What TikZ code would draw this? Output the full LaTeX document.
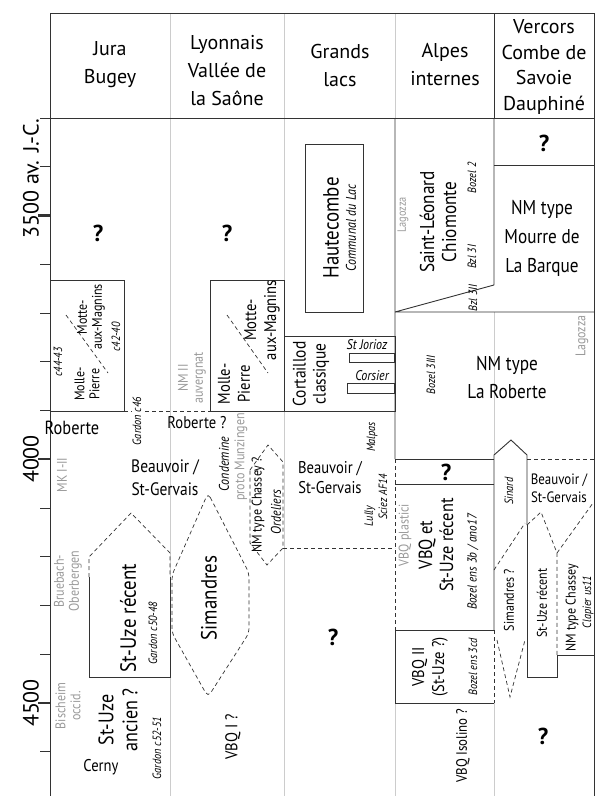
\documentclass[tikz,border=0pt]{standalone}
\usepackage{fontspec}
\setmainfont{PT Sans}
\newfontfamily\narrowfont[FakeStretch=0.86]{PT Sans}
\usetikzlibrary{positioning}

\definecolor{rulegray}{gray}{0.2}
\definecolor{sepgray}{gray}{0.8}
\definecolor{faintgray}{gray}{0.6}

\begin{document}
\begin{tikzpicture}[x=1pt,y=-1pt,inner sep=1pt,
    frame/.style={draw=rulegray,line width=0.9pt},
    sepline/.style={draw=sepgray,line width=0.7pt},
    dashline/.style={draw=rulegray,line width=0.7pt,dash pattern=on 4pt off 3pt},
    col/.style={font=\fontsize{20}{28}\selectfont,align=center},
    yr/.style={font=\fontsize{22}{22}\selectfont,rotate=90,inner sep=0pt},
    qmark/.style={font=\fontsize{23}{23}\selectfont\bfseries},
    up/.style={rotate=90}]
\tikzstyle{big}=[font=\narrowfont\fontsize{21}{24}\selectfont,align=center]
\tikzstyle{mid}=[font=\narrowfont\fontsize{17}{20}\selectfont,align=center]
\tikzstyle{small}=[font=\narrowfont\fontsize{14}{15}\selectfont,align=center]
\tikzstyle{site}=[font=\narrowfont\itshape\fontsize{12}{13}\selectfont]
\tikzstyle{grey}=[text=faintgray]

\useasboundingbox (0,0) rectangle (595,796);

\draw[sepline] (170,13) -- (170,796) (284,13) -- (284,796)
    (395,13) -- (395,118) (395,703) -- (395,796)
    (494,312) -- (494,455) (494,703) -- (494,796);
\draw[frame] (50,796) -- (50,13) -- (594,13) -- (594,796);
\draw[frame] (40,118) -- (594,118) (494,13) -- (494,118);
\foreach \t in {166.75,264.25,313,361.75,410.5,508,556.75,605.5,654.25,751.75}
    \draw[frame] (40,\t) -- (50,\t);
\foreach \t in {215.5,459.25,703}
    \draw[frame,line width=2.2pt] (38,\t) -- (50,\t);

\node[yr,anchor=west] (y35) at (31,239) {3500 av. J.-C.};
\node[yr] (y40) at (31,459) {4000};
\node[yr] (y45) at (31,703) {4500};

\node[col] (jura) at (110,65) {Jura\\Bugey};
\node[col] (lyon) at (227,71) {Lyonnais\\Vallée de\\la Saône};
\node[col] (lacs) at (340,65) {Grands\\lacs};
\node[col] (alpes) at (445,65) {Alpes\\internes};
\node[col,font=\fontsize{20}{25.5}\selectfont] (verc) at (544,67) {Vercors\\Combe de\\Savoie\\Dauphiné};

% Jura Bugey
\node[qmark] (q1) at (98,233) {?};
\draw[frame] (50,280) rectangle (124,411);
\draw[dashline] (66,315) -- (108,373);
\node[site,up] (c4443) at (58,362) {c44-43};
\node[small,up] (mp1) at (87,384) {Molle-\\Pierre};
\node[small,up] (mam1) at (91,317) {Motte-\\aux-Magnins};
\node[site,up] (c4240) at (116,337) {c42-40};
\draw[dashline] (124,411) -- (210,411);
\node[site,up,fill=white] (g46) at (137,421) {Gardon c46};
\node[mid,font=\narrowfont\fontsize{19}{20}\selectfont] (rob1) at (72,428) {Roberte};
\node[small,grey,up] (mk) at (62,475) {MK I-II};
\node[mid,font=\narrowfont\fontsize{18}{23}\selectfont] (beau1) at (165,478) {Beauvoir /\\St-Gervais};
\draw[dashline] (89,577) -- (89,557) -- (131,513) -- (170,553) -- (170,577);
\draw[frame] (89,577) -- (89,677) -- (170,677) -- (170,577);
\node[big,up,font=\narrowfont\fontsize{22}{24}\selectfont] (suz1) at (128,618) {St-Uze récent};
\node[site,up] (g5048) at (153,633) {Gardon c50-48};
\node[small,grey,up] (brue) at (68,581) {Bruebach-\\Oberbergen};
\node[small,grey,up] (bisch) at (68,706) {Bischeim\\occid.};
\node[big,up] (suza) at (118,720) {St-Uze\\ancien ?};
\node[mid] (cerny) at (101,767) {Cerny};
\node[site,up] (g5251) at (157,748) {Gardon c52-51};

% Lyonnais
\node[qmark] (q2) at (227,233) {?};
\draw[frame] (210,280) rectangle (284,411);
\draw[dashline] (227,315) -- (268,373);
\node[mid,up] (mp2) at (234,384) {Molle-\\Pierre};
\node[mid,up] (mam2) at (262,320) {Motte-\\aux-Magnins};
\node[small,grey,up] (nm2) at (192,378) {NM II\\auvergnat};
\node[mid] (rob2) at (197,423) {Roberte ?};
\node[site,up,font=\narrowfont\itshape\fontsize{14}{15}\selectfont] (cond) at (224,464) {Condemine};
\node[small,grey,up] (proto) at (241,457) {proto Munzingen};
\draw[dashline,rounded corners=5pt] (208,493) -- (249,573) -- (249,633) -- (208,697)
    -- (172,633) -- (172,575) -- cycle;
\node[big,up,font=\narrowfont\fontsize{22}{24}\selectfont] (sim) at (209,598) {Simandres};
\draw[dashline] (250,470) -- (268,445) -- (283,462) -- (283,548) -- (267,565)
    -- (250,543) -- cycle;
\node[small,up] (nmc) at (258,505) {NM type Chassey ?};
\node[site,up,font=\narrowfont\itshape\fontsize{14}{15}\selectfont] (ord) at (276,512) {Ordeliers};
\draw[dashline] (283,548) -- (395,548);
\node[mid,up] (vbq1) at (233,737) {VBQ I ?};

% Grands lacs
\draw[frame] (305,144) rectangle (363,312);
\node[big,up,font=\narrowfont\fontsize{22}{24}\selectfont] (haut) at (331,228) {Hautecombe};
\node[site,up,font=\narrowfont\itshape\fontsize{14}{15}\selectfont] (comm) at (351,228) {Communal du Lac};
\draw[frame] (284,336) rectangle (395,411);
\node[mid,up,font=\narrowfont\fontsize{18}{20}\selectfont] (cort) at (311,374) {Cortaillod\\classique};
\node[site,font=\narrowfont\itshape\fontsize{14}{15}\selectfont] (jor) at (367,345) {St Jorioz};
\draw[frame,line width=0.7pt] (349,353) rectangle (394,362);
\node[site,font=\narrowfont\itshape\fontsize{14}{15}\selectfont] (cors) at (372,376) {Corsier};
\draw[frame,line width=0.7pt] (347,383) rectangle (394,393);
\node[site,up] (malp) at (372,437) {Malpas};
\node[mid] (beau3) at (330,478) {Beauvoir /\\St-Gervais};
\node[site,up] (sciez) at (383,497) {Sciez AF14};
\node[site,up] (lully) at (370,516) {Lully};
\node[qmark] (q3) at (333,637) {?};

% Alpes internes
\draw[frame] (395,118) -- (395,459) (494,118) -- (494,285) (395,312) -- (494,285)
    (395,312) -- (594,312);
\node[small,grey,up,font=\narrowfont\fontsize{12}{13}\selectfont] (lag1) at (403,215) {Lagozza};
\node[big,up,font=\narrowfont\fontsize{20}{22}\selectfont] (leon) at (438,222) {Saint-Léonard\\Chiomonte};
\node[site,up] (bz2) at (472,178) {Bozel 2};
\node[site,up] (bz3i) at (472,257) {Bzl 3I};
\node[site,up] (bz3ii) at (473,298) {Bzl 3II};
\node[site,up] (bz3iii) at (431,375) {Bozel 3III};
\node[big,font=\narrowfont\fontsize{20}{28}\selectfont] (nmrob) at (507,378) {NM type\\La Roberte};
\node[small,grey,up] (lag2) at (582,336) {Lagozza};
\draw[frame] (395,459) -- (494,459) (395,484) -- (494,484) (395,630) -- (494,630);
\node[qmark] (q4) at (446,472) {?};
\draw[dashline] (395,459) -- (395,630);
\node[small,grey,up] (plast) at (405,535) {VBQ plastici};
\node[big,up,font=\narrowfont\fontsize{19}{21}\selectfont] (vbqsuz) at (436,545) {VBQ et\\St-Uze récent};
\node[site,up,font=\narrowfont\itshape\fontsize{13}{14}\selectfont] (bz3b) at (473,562) {Bozel ens 3b / ano17};
\draw[frame] (395,630) -- (395,703) -- (494,703);
\draw[dashline] (494,630) -- (494,703);
\node[mid,up] (vbq2) at (430,667) {VBQ II\\(St-Uze ?)};
\node[site,up] (bz3cd) at (473,667) {Bozel ens 3cd};
\node[small,up,font=\narrowfont\fontsize{15}{16}\selectfont] (iso) at (463,746) {VBQ Isolino ?};

% Vercors
\draw[frame] (494,165) -- (594,165);
\node[qmark] (q5) at (544,143) {?};
\node[big,font=\narrowfont\fontsize{20}{29}\selectfont] (mourre) at (542,238) {NM type\\Mourre de\\La Barque};
\draw[frame] (494,630) -- (494,455) -- (511,440) -- (527,455) -- (527,525);
\node[site,up] (sin) at (509,491) {Sinard};
\draw[dashline] (527,459) -- (594,459);
\node[small,font=\narrowfont\fontsize{15}{18}\selectfont] (beau5) at (559,488) {Beauvoir /\\St-Gervais};
\draw[dashline] (494,570) -- (525,523);
\draw[dashline] (497,640) -- (510,697) -- (525,640);
\node[small,up] (sim5) at (509,600) {Simandres ?};
\draw[frame] (527,525) -- (527,677) -- (557,677) -- (557,655) -- (594,655);
\draw[dashline] (527,525) -- (541,512) -- (557,553) -- (557,655);
\draw[dashline] (557,553) -- (593,503);
\node[small,up] (suz5) at (542,603) {St-Uze récent};
\node[small,up] (nmc5) at (572,608) {NM type Chassey};
\node[site,up] (clap) at (588,602) {Clapier us11};
\node[qmark] (q6) at (543,736) {?};
\end{tikzpicture}
\end{document}
